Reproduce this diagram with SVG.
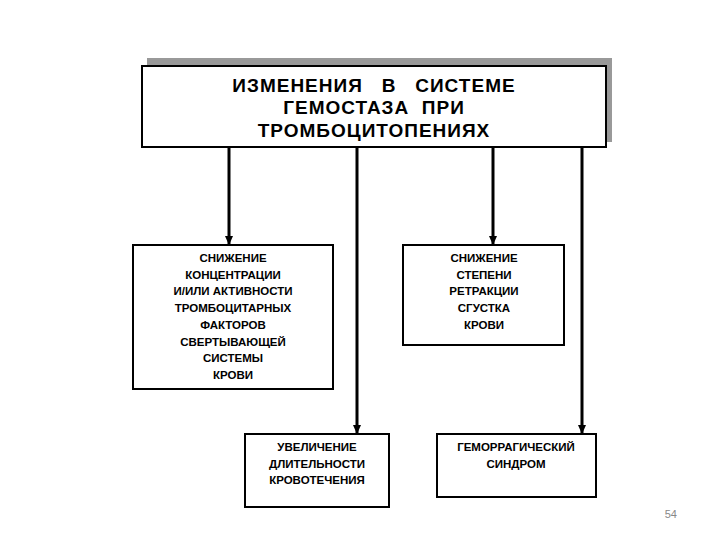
<svg xmlns="http://www.w3.org/2000/svg" width="720" height="540" viewBox="0 0 720 540">
<style>
.b{fill:#fff;stroke:#000;stroke-width:2}
.t{font-family:"Liberation Sans",Arial,sans-serif;font-weight:bold;font-size:11.5px;text-anchor:middle;fill:#000}
.h{font-family:"Liberation Sans",Arial,sans-serif;font-weight:bold;font-size:19px;text-anchor:middle;fill:#000;letter-spacing:1px;white-space:pre}
.c{stroke:#000;stroke-width:3;fill:none;marker-end:url(#a)}
</style>
<defs><marker id="a" markerUnits="userSpaceOnUse" markerWidth="9" markerHeight="9" refX="8" refY="4.5" orient="auto"><path d="M0,0.5L9,4.5L0,8.5z" fill="#000"/></marker></defs>
<rect width="720" height="540" fill="#fff"/>
<g id="top">
<rect x="147" y="58" width="465" height="84" fill="#999"/>
<rect class="b" x="142" y="66" width="464" height="81"/>
<text class="h" x="374" y="92" xml:space="preserve">ИЗМЕНЕНИЯ   В   СИСТЕМЕ</text>
<text class="h" x="374" y="114" xml:space="preserve">ГЕМОСТАЗА  ПРИ</text>
<text class="h" x="374" y="137">ТРОМБОЦИТОПЕНИЯХ</text>
</g>
<g id="connectors">
<path class="c" d="M229,148V244"/>
<path class="c" d="M357,148V433"/>
<path class="c" d="M493,148V244"/>
<path class="c" d="M582,148V433"/>
</g>
<g id="n1">
<rect class="b" x="133" y="245" width="200" height="144"/>
<text class="t" x="233" y="262">СНИЖЕНИЕ</text>
<text class="t" x="233" y="279">КОНЦЕНТРАЦИИ</text>
<text class="t" x="233" y="295">И/ИЛИ АКТИВНОСТИ</text>
<text class="t" x="233" y="312">ТРОМБОЦИТАРНЫХ</text>
<text class="t" x="233" y="329">ФАКТОРОВ</text>
<text class="t" x="233" y="346">СВЕРТЫВАЮЩЕЙ</text>
<text class="t" x="233" y="362">СИСТЕМЫ</text>
<text class="t" x="233" y="379">КРОВИ</text>
</g>
<g id="n2">
<rect class="b" x="403" y="245" width="161" height="100"/>
<text class="t" x="484" y="262">СНИЖЕНИЕ</text>
<text class="t" x="484" y="279">СТЕПЕНИ</text>
<text class="t" x="484" y="295">РЕТРАКЦИИ</text>
<text class="t" x="484" y="312">СГУСТКА</text>
<text class="t" x="484" y="329">КРОВИ</text>
</g>
<g id="n3">
<rect class="b" x="245" y="434" width="144" height="73"/>
<text class="t" x="317" y="451">УВЕЛИЧЕНИЕ</text>
<text class="t" x="317" y="468">ДЛИТЕЛЬНОСТИ</text>
<text class="t" x="317" y="484">КРОВОТЕЧЕНИЯ</text>
</g>
<g id="n4">
<rect class="b" x="437" y="434" width="159" height="63"/>
<text class="t" x="516" y="451">ГЕМОРРАГИЧЕСКИЙ</text>
<text class="t" x="516" y="468">СИНДРОМ</text>
</g>
<text x="677" y="518" font-family="Liberation Sans,Arial,sans-serif" font-size="11" fill="#888" text-anchor="end">54</text>
</svg>
